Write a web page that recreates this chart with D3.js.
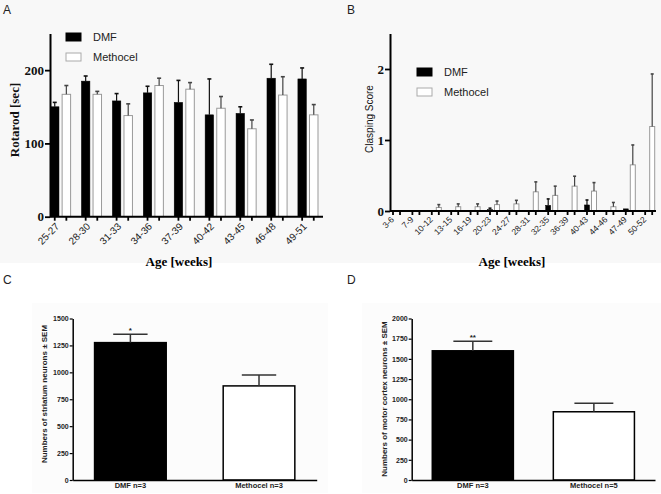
<!DOCTYPE html>
<html>
<head>
<meta charset="utf-8">
<title>DMF vs Methocel</title>
<script src="https://d3js.org/d3.v7.min.js"></script>
<style>
  body { margin: 0; background: #fff; }
  svg { display: block; }
</style>
</head>
<body>
<div id="chart"></div>
<script>
// Panel A - rotarod [sec]
const ageA = ["25-27", "28-30", "31-33", "34-36", "37-39", "40-42", "43-45", "46-48", "49-51"];
const rotarodDMF = [150, 185, 158, 169, 156, 139, 141, 189, 188];
const rotarodDMFSem = [6, 7, 10, 9, 30, 49, 9, 19, 15];
const rotarodMeth = [167, 167, 138, 179, 174, 148, 120, 166, 139];
const rotarodMethSem = [12, 4, 16, 10, 9, 16, 12, 25, 14];

// Panel B - clasping score
const ageB = ["3-6", "7-9", "10-12", "13-15", "16-19", "20-23", "24-27", "28-31", "32-35", "36-39", "40-43", "44-46", "47-49", "50-52"];
const claspDMF = [0, 0, 0, 0, 0, 0.02, 0, 0, 0.08, 0, 0.085, 0, 0.03, 0];
const claspDMFSem = [0, 0, 0, 0, 0, 0.02, 0, 0, 0.09, 0, 0.07, 0, 0, 0];
const claspMeth = [0, 0, 0.05, 0.06, 0.06, 0.09, 0.10, 0.27, 0.22, 0.35, 0.28, 0.06, 0.65, 1.19];
const claspMethSem = [0, 0, 0.04, 0.04, 0.04, 0.05, 0.05, 0.14, 0.13, 0.14, 0.12, 0.06, 0.28, 0.74];

// Panel C - striatum neurons
const groupsC = ["DMF n=3", "Methocel n=3"];
const striatum = [1276, 874];
const striatumSem = [78, 102];

// Panel D - motor cortex neurons
const groupsD = ["DMF n=3", "Methocel n=5"];
const cortex = [1600, 845];
const cortexSem = [119, 104];

const serif = "'Liberation Serif', 'Times New Roman', serif";
const sans = "'Liberation Sans', Arial, sans-serif";

const svg = d3.select("#chart")
  .append("svg")
  .attr("width", 661)
  .attr("height", 494);

// faint backgrounds of the scanned figure
svg.append("rect").attr("x", 0).attr("y", 0).attr("width", 661).attr("height", 263).attr("fill", "#f8f8f8");
svg.append("rect").attr("x", 32).attr("y", 303).attr("width", 296).attr("height", 190).attr("fill", "#fcfcfc");
svg.append("rect").attr("x", 362).attr("y", 303).attr("width", 299).attr("height", 190).attr("fill", "#fcfcfc");

// panel letters
[["A", 3, 14], ["B", 347, 14], ["C", 3, 284], ["D", 347, 284]].forEach(function(p) {
  svg.append("text")
    .attr("x", p[1]).attr("y", p[2])
    .style("font-family", sans).style("font-size", "12px").attr("fill", "#222")
    .text(p[0]);
});

function createGroupedChart(o) {
  const series = ["DMF", "Methocel"];
  const data = o.cats.map((c, i) => ({
    cat: c,
    vals: [
      { key: "DMF", v: o.dmf[i], s: o.dmfSem[i] },
      { key: "Methocel", v: o.meth[i], s: o.methSem[i] }
    ]
  }));

  const x0 = d3.scaleBand().domain(o.cats).range(o.xRange).paddingInner(o.padInner).paddingOuter(0);
  const x1 = d3.scaleBand().domain(series).range([0, x0.bandwidth()]).paddingInner(o.subPad).paddingOuter(0);
  const y = d3.scaleLinear().domain(o.yDomain).range(o.yRange);
  const y0 = y(0);

  const g = svg.append("g");

  // bars
  const grp = g.selectAll(".grp").data(data).enter().append("g")
    .attr("transform", d => "translate(" + x0(d.cat) + ",0)");

  grp.selectAll("rect").data(d => d.vals.filter(v => v.v > 0)).enter().append("rect")
    .attr("x", d => x1(d.key))
    .attr("y", d => y(d.v))
    .attr("width", x1.bandwidth())
    .attr("height", d => y0 - y(d.v))
    .attr("fill", d => d.key === "DMF" ? "#000" : "#fff")
    .attr("stroke", d => d.key === "DMF" ? "#000" : "#9a9a9a")
    .attr("stroke-width", d => d.key === "DMF" ? 0.5 : 1);

  // error bars (upper only)
  const eb = grp.selectAll(".eb").data(d => d.vals.filter(v => v.s > 0)).enter().append("g")
    .attr("stroke", d => d.key === "DMF" ? "#111" : "#444")
    .attr("stroke-width", 1.2);
  eb.append("line")
    .attr("x1", d => x1(d.key) + x1.bandwidth() / 2)
    .attr("x2", d => x1(d.key) + x1.bandwidth() / 2)
    .attr("y1", d => y(d.v))
    .attr("y2", d => y(d.v + d.s));
  eb.append("line")
    .attr("x1", d => x1(d.key) + x1.bandwidth() / 2 - o.capW / 2)
    .attr("x2", d => x1(d.key) + x1.bandwidth() / 2 + o.capW / 2)
    .attr("y1", d => y(d.v + d.s))
    .attr("y2", d => y(d.v + d.s))
    .attr("stroke-width", 1.6);

  // x axis line + tick under each bar
  g.append("line")
    .attr("x1", o.axisX).attr("x2", o.axisEnd)
    .attr("y1", y0).attr("y2", y0)
    .attr("stroke", "#000").attr("stroke-width", 2);
  grp.selectAll(".tk").data(series).enter().append("line")
    .attr("x1", s => x1(s) + x1.bandwidth() / 2)
    .attr("x2", s => x1(s) + x1.bandwidth() / 2)
    .attr("y1", y0).attr("y2", y0 + 4)
    .attr("stroke", "#000").attr("stroke-width", 1.8);

  // y axis
  const ya = g.append("g")
    .attr("transform", "translate(" + o.axisX + ",0)")
    .call(d3.axisLeft(y).tickValues(o.yTicks).tickSize(5).tickSizeOuter(0).tickPadding(1).tickFormat(d3.format("d")));
  ya.select(".domain").attr("stroke-width", 2);
  ya.selectAll(".tick line").attr("stroke-width", 1.8);
  ya.selectAll("text")
    .style("font-family", serif).style("font-size", "13px").style("font-weight", "bold").attr("fill", "#111");

  // rotated category labels
  g.selectAll(".xl").data(o.cats).enter().append("text")
    .attr("transform", c => "translate(" + (x0(c) + o.labelDx) + "," + (y0 + o.labelDy) + ") rotate(-45)")
    .attr("text-anchor", "end")
    .attr("dy", "0.35em")
    .style("font-family", sans).style("font-size", o.labelSize).attr("fill", "#222")
    .text(c => c);

  // x title
  g.append("text")
    .attr("x", o.titleX).attr("y", 266)
    .attr("text-anchor", "middle")
    .style("font-family", serif).style("font-size", "13px").style("font-weight", "bold")
    .text("Age [weeks]");

  // y title
  g.append("text")
    .attr("transform", "translate(" + o.yLabelX + "," + o.yLabelY + ") rotate(-90)")
    .attr("text-anchor", "middle")
    .style("font-family", o.yLabelFont).style("font-size", o.yLabelSize).style("font-weight", o.yLabelWeight)
    .attr("fill", "#111")
    .text(o.yLabel);

  // legend
  series.forEach(function(s, i) {
    g.append("rect")
      .attr("x", o.legendX).attr("y", o.legendY + i * 20)
      .attr("width", 15).attr("height", 8)
      .attr("fill", s === "DMF" ? "#000" : "#fff")
      .attr("stroke", s === "DMF" ? "#000" : "#aaa");
    g.append("text")
      .attr("x", o.legendX + 27).attr("y", o.legendY + i * 20 + 4)
      .attr("dy", "0.35em")
      .style("font-family", sans).style("font-size", "11px").attr("fill", "#222")
      .text(s);
  });
}

function createSimpleChart(o) {
  const data = o.cats.map((c, i) => ({ cat: c, v: o.vals[i], s: o.sems[i], dmf: i === 0 }));

  const x = d3.scaleBand().domain(o.cats).range([o.axisX, o.axisEnd]).paddingInner(o.padInner).paddingOuter(o.padOuter);
  const y = d3.scaleLinear().domain([0, o.yMax]).range([480, 318.5]);

  const g = svg.append("g");

  g.selectAll(".bar").data(data).enter().append("rect")
    .attr("x", d => x(d.cat))
    .attr("y", d => y(d.v))
    .attr("width", x.bandwidth())
    .attr("height", d => y(0) - y(d.v))
    .attr("fill", d => d.dmf ? "#000" : "#fff")
    .attr("stroke", "#000").attr("stroke-width", 1.5);

  const eb = g.selectAll(".eb").data(data).enter().append("g")
    .attr("stroke", "#333").attr("stroke-width", 1.5);
  eb.append("line")
    .attr("x1", d => x(d.cat) + x.bandwidth() / 2)
    .attr("x2", d => x(d.cat) + x.bandwidth() / 2)
    .attr("y1", d => y(d.v)).attr("y2", d => y(d.v + d.s));
  eb.append("line")
    .attr("x1", d => x(d.cat) + x.bandwidth() / 2 - x.bandwidth() * 0.24)
    .attr("x2", d => x(d.cat) + x.bandwidth() / 2 + x.bandwidth() * 0.24)
    .attr("y1", d => y(d.v + d.s)).attr("y2", d => y(d.v + d.s));

  // significance stars
  g.append("text")
    .attr("x", x(o.cats[0]) + x.bandwidth() / 2)
    .attr("y", y(o.vals[0] + o.sems[0]) - 1)
    .attr("text-anchor", "middle")
    .style("font-family", sans).style("font-size", "8px").style("font-weight", "bold").attr("fill", "#222")
    .text(o.stars);

  const ya = g.append("g")
    .attr("transform", "translate(" + o.axisX + ",0)")
    .call(d3.axisLeft(y).tickValues(o.yTicks).tickSize(3).tickSizeOuter(0).tickPadding(1).tickFormat(d3.format("d")));
  ya.select(".domain").attr("stroke-width", 1.5);
  ya.selectAll(".tick line").attr("stroke-width", 1.2);
  ya.selectAll("text")
    .style("font-family", sans).style("font-size", "7px").style("font-weight", "bold").attr("fill", "#222");

  const xa = g.append("g")
    .attr("transform", "translate(0,480)")
    .call(d3.axisBottom(x).tickSize(0).tickSizeOuter(0).tickPadding(3));
  xa.select(".domain").attr("stroke-width", 1.5);
  xa.selectAll("text")
    .style("font-family", sans).style("font-size", "7.5px").style("font-weight", "bold").attr("fill", "#222");

  g.append("text")
    .attr("transform", "translate(" + o.yLabelX + "," + o.yLabelY + ") rotate(-90)")
    .attr("text-anchor", "middle")
    .attr("dy", "0.35em")
    .style("font-family", sans).style("font-size", "8px").style("font-weight", "bold").attr("fill", "#222")
    .text(o.yLabel);
}

createGroupedChart({
  cats: ageA, dmf: rotarodDMF, dmfSem: rotarodDMFSem, meth: rotarodMeth, methSem: rotarodMethSem,
  xRange: [50.5, 318], padInner: 0.35, subPad: 0.27, capW: 4,
  yDomain: [0, 250], yRange: [216.7, 33.5], yTicks: [0, 100, 200],
  axisX: 50, axisEnd: 323,
  labelDx: 7, labelDy: 8, labelSize: "10px",
  titleX: 179,
  yLabel: "Rotarod [sec]", yLabelX: 19, yLabelY: 120, yLabelFont: serif, yLabelSize: "13px", yLabelWeight: "bold",
  legendX: 66, legendY: 33
});

createGroupedChart({
  cats: ageB, dmf: claspDMF, dmfSem: claspDMFSem, meth: claspMeth, methSem: claspMethSem,
  xRange: [390.5, 654.7], padInner: 0.38, subPad: 0.286, capW: 3,
  yDomain: [0, 2.5], yRange: [211, 33.5], yTicks: [0, 1, 2],
  axisX: 390, axisEnd: 656,
  labelDx: 2, labelDy: 7, labelSize: "8.5px",
  titleX: 512,
  yLabel: "Clasping Score", yLabelX: 373, yLabelY: 119, yLabelFont: sans, yLabelSize: "10px", yLabelWeight: "normal",
  legendX: 417, legendY: 68
});

createSimpleChart({
  cats: groupsC, vals: striatum, sems: striatumSem,
  axisX: 72.7, axisEnd: 316.7, padInner: 0.443, padOuter: 0.17,
  yMax: 1500, yTicks: [0, 250, 500, 750, 1000, 1250, 1500],
  stars: "*",
  yLabel: "Numbers of striatum neurons \u00b1 SEM", yLabelX: 44, yLabelY: 394
});

createSimpleChart({
  cats: groupsD, vals: cortex, sems: cortexSem,
  axisX: 411.7, axisEnd: 655, padInner: 0.33, padOuter: 0.17,
  yMax: 2000, yTicks: [0, 250, 500, 750, 1000, 1250, 1500, 1750, 2000],
  stars: "**",
  yLabel: "Numbers of motor cortex neurons \u00b1 SEM", yLabelX: 384, yLabelY: 399
});
</script>
</body>
</html>
